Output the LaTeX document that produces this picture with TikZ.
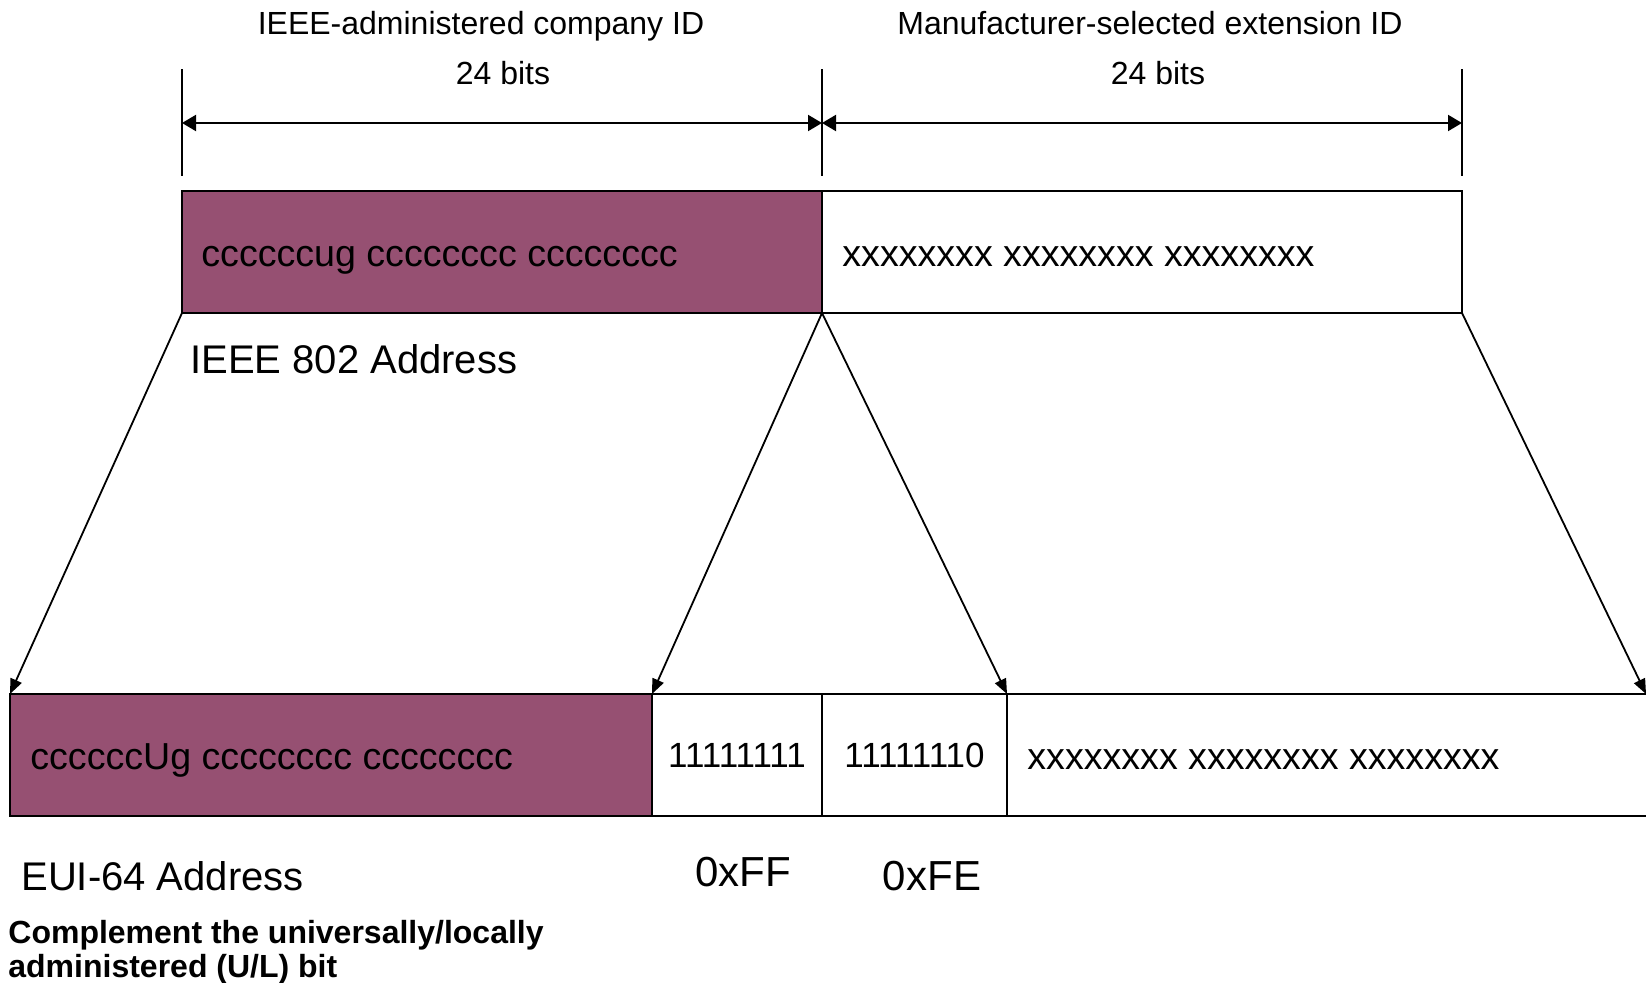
\documentclass[tikz,border=0pt]{standalone}
\usepackage{fontspec}
\setmainfont{Liberation Sans}
\usetikzlibrary{arrows.meta}
\definecolor{ouifill}{RGB}{150,80,114}

\begin{document}
\begin{tikzpicture}[x=0.5pt, y=-0.5pt,
	field/.style={draw, line width=1.25pt, outer sep=0pt, inner sep=0pt, minimum height=61pt, anchor=north west},
	bits/.style={font=\fontsize{18.8}{23}\selectfont, anchor=base west, inner sep=0pt},
	byte/.style={font=\fontsize{17.5}{21}\selectfont, anchor=base, inner sep=0pt},
	head/.style={font=\fontsize{16}{19}\selectfont, anchor=base, inner sep=0pt},
	tag/.style={font=\fontsize{20}{24}\selectfont, anchor=west, inner sep=0pt},
	hex/.style={font=\fontsize{21}{25}\selectfont, inner sep=0pt},
	note/.style={font=\bfseries\fontsize{16}{17}\selectfont, anchor=west, align=left, inner sep=0pt},
	span/.style={line width=1pt, {Triangle[length=7pt,width=8pt]}-{Triangle[length=7pt,width=8pt]}},
	tick/.style={line width=0.75pt},
	map/.style={line width=0.9pt, -{Triangle[length=7.5pt,width=6pt]}}]
	\useasboundingbox (0,0) rectangle (1646,983);

	% IEEE 802 address
	\node[field, fill=ouifill, minimum width=320pt] (oui) at (182,191) {};
	\node[field, minimum width=320pt] (ext) at (822,191) {};
	\node[bits] (ouibits) at ([xshift=9.5pt,yshift=-38pt]oui.north west) {ccccccug cccccccc cccccccc};
	\node[bits] (extbits) at ([xshift=10pt,yshift=-38pt]ext.north west) {xxxxxxxx xxxxxxxx xxxxxxxx};
	\node[tag] (ieee) at (190,359) {IEEE 802 Address};

	% EUI-64 address
	\node[field, fill=ouifill, minimum width=321pt] (eoui) at (10,694) {};
	\node[field, minimum width=85pt] (ff) at (652,694) {};
	\node[field, minimum width=92.5pt] (fe) at (822,694) {};
	\node[field, minimum width=323pt] (eext) at (1007,694) {};
	\node[bits] (eouibits) at ([xshift=10pt,yshift=-38pt]eoui.north west) {ccccccUg cccccccc cccccccc};
	\node[byte] (ffbits) at ([yshift=-37pt]ff.north) {11111111};
	\node[byte] (febits) at ([yshift=-37pt]fe.north) {11111110};
	\node[bits] (eextbits) at ([xshift=10pt,yshift=-38pt]eext.north west) {xxxxxxxx xxxxxxxx xxxxxxxx};
	\node[tag] (eui) at (21,876) {EUI-64 Address};
	\node[hex] (ffhex) at (743,872) {0xFF};
	\node[hex] (fehex) at (932,876) {0xFE};
	\node[note] (ulbit) at (8,952) {Complement the universally/locally\\administered (U/L) bit};

	% field widths
	\node[head] (ouititle) at (481,35) {IEEE-administered company ID};
	\node[head] (ouisize) at (503,85) {24 bits};
	\node[head] (exttitle) at (1150,35) {Manufacturer-selected extension ID};
	\node[head] (extsize) at (1158,85) {24 bits};
	\foreach \f/\a in {oui/north west, oui/north east, ext/north east}
		\draw[tick] ([yshift=7.5pt]\f.\a) -- ([yshift=61pt]\f.\a);
	\draw[span] ([yshift=34pt]oui.north west) -- ([yshift=34pt]oui.north east);
	\draw[span] ([yshift=34pt]ext.north west) -- ([yshift=34pt]ext.north east);

	% mapping
	\coordinate (rim) at (1646,694);
	\draw[map] (oui.south west) -- (eoui.north west);
	\draw[map] (oui.south east) -- (ff.north west);
	\draw[map] (ext.south west) -- (fe.north east);
	\draw[map] (ext.south east) -- (rim);
\end{tikzpicture}
\end{document}
